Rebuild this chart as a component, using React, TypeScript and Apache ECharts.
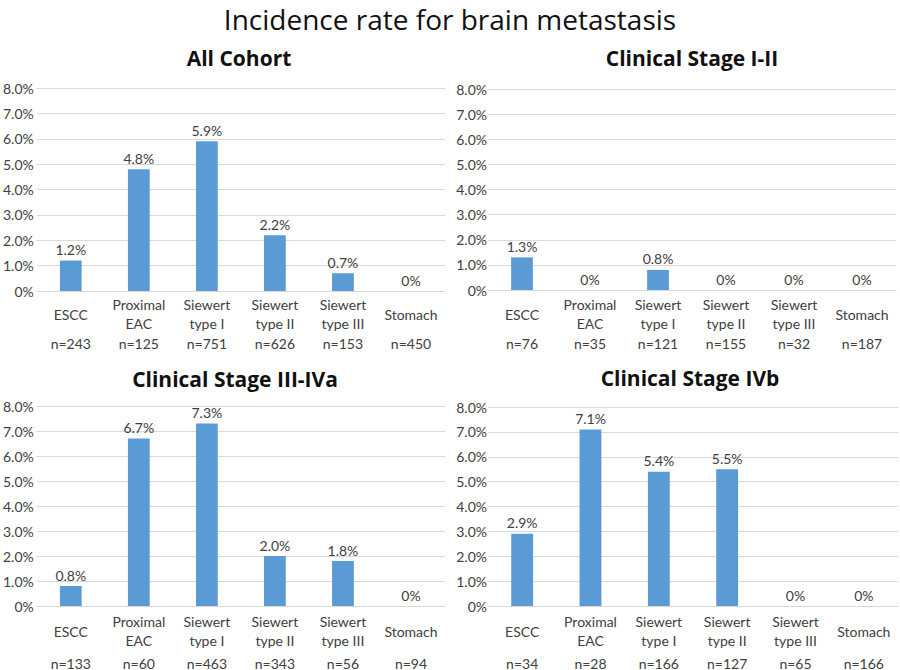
import React, { useEffect, useRef } from "react";
import * as echarts from "echarts";

const categories = ["ESCC", "Proximal\nEAC", "Siewert\ntype I", "Siewert\ntype II", "Siewert\ntype III", "Stomach"];
const panelTitles = ["All Cohort", "Clinical Stage I-II", "Clinical Stage III-IVa", "Clinical Stage IVb"];
const allCohort = [1.2, 4.8, 5.9, 2.2, 0.7, 0];
const stageI_II = [1.3, 0, 0.8, 0, 0, 0];
const stageIII_IVa = [0.8, 6.7, 7.3, 2.0, 1.8, 0];
const stageIVb = [2.9, 7.1, 5.4, 5.5, 0, 0];
const nAll = ["n=243", "n=125", "n=751", "n=626", "n=153", "n=450"];
const nI_II = ["n=76", "n=35", "n=121", "n=155", "n=32", "n=187"];
const nIII_IVa = ["n=133", "n=60", "n=463", "n=343", "n=56", "n=94"];
const nIVb = ["n=34", "n=28", "n=166", "n=127", "n=65", "n=166"];
const yTicks = [0, 1, 2, 3, 4, 5, 6, 7, 8];

const seriesValues = [allCohort, stageI_II, stageIII_IVa, stageIVb];
const nLabels = [nAll, nI_II, nIII_IVa, nIVb];

const FONT = "Lato, 'Open Sans', sans-serif";
const TEXT = "#404040";

const fmt = (v: number) => (v === 0 ? "0%" : v.toFixed(1) + "%");

export default function App() {
  const ref = useRef<HTMLDivElement>(null);
  useEffect(() => {
    if (!ref.current) return;
    const chart = echarts.init(ref.current, null, { renderer: "svg" });
    const grids = [
      { left: 34, top: 88, width: 411, height: 203 },
      { left: 488, top: 89, width: 408, height: 201 },
      { left: 34, top: 406, width: 411, height: 202 },
      { left: 488, top: 407, width: 410, height: 200 },
    ];
    const catMargins = [23, 24, 25, 25];
    const nMargins = [52, 53, 57, 57];
    const yMargins = [3, 1, 3, 1];
    const titleCenters = [
      { x: 239, y: 58 },
      { x: 692, y: 58 },
      { x: 235, y: 379 },
      { x: 690, y: 378 },
    ];
    const option: any = {
      animation: false,
      backgroundColor: "#ffffff",
      textStyle: { fontFamily: FONT },
      title: [
        {
          text: "Incidence rate for brain metastasis",
          left: "center",
          top: 0,
          textStyle: { fontFamily: "'Open Sans', sans-serif", fontWeight: "normal", fontSize: 28, color: "#111" },
        },
      ],
      graphic: panelTitles.map((t, i) => ({
        type: "text",
        x: titleCenters[i].x,
        y: titleCenters[i].y,
        style: {
          text: t,
          font: "bold 21px 'Open Sans', sans-serif",
          fill: "#111",
          align: "center",
          verticalAlign: "middle",
        },
      })),
      grid: grids.map((g) => ({ ...g, containLabel: false })),
      xAxis: [] as any[],
      yAxis: [] as any[],
      series: [] as any[],
    };
    grids.forEach((_, i) => {
      option.xAxis.push({
        type: "category",
        gridIndex: i,
        data: categories,
        axisLine: { lineStyle: { color: "#d9d9d9", width: 1 } },
        axisTick: { show: false },
        axisLabel: {
          interval: 0,
          margin: catMargins[i],
          verticalAlign: "middle",
          color: TEXT,
          fontSize: 14,
          lineHeight: 19,
          fontFamily: FONT,
        },
      });
      option.xAxis.push({
        type: "category",
        gridIndex: i,
        position: "bottom",
        data: nLabels[i],
        axisLine: { show: false },
        axisTick: { show: false },
        axisLabel: {
          interval: 0,
          margin: nMargins[i],
          verticalAlign: "middle",
          color: TEXT,
          fontSize: 14,
          fontFamily: FONT,
        },
      });
      option.yAxis.push({
        type: "value",
        gridIndex: i,
        min: yTicks[0],
        max: yTicks[yTicks.length - 1],
        interval: 1,
        axisLine: { show: false },
        axisTick: { show: false },
        splitLine: { lineStyle: { color: "#d9d9d9", width: 1 } },
        axisLabel: {
          formatter: (v: number) => fmt(v),
          color: TEXT,
          fontSize: 14,
          margin: yMargins[i],
          fontFamily: FONT,
        },
      });
      option.series.push({
        type: "bar",
        xAxisIndex: i * 2,
        yAxisIndex: i,
        data: seriesValues[i],
        barWidth: "32%",
        itemStyle: { color: "#5b9bd5" },
        label: {
          show: true,
          position: "top",
          distance: 4,
          formatter: (p: any) => fmt(p.value),
          color: TEXT,
          fontSize: 14,
          fontFamily: FONT,
        },
      });
    });
    chart.setOption(option);
    return () => chart.dispose();
  }, []);
  return (
    <div
      ref={ref}
      style={{ position: "fixed", left: 0, top: 0, width: 900, height: 670 }}
    />
  );
}
